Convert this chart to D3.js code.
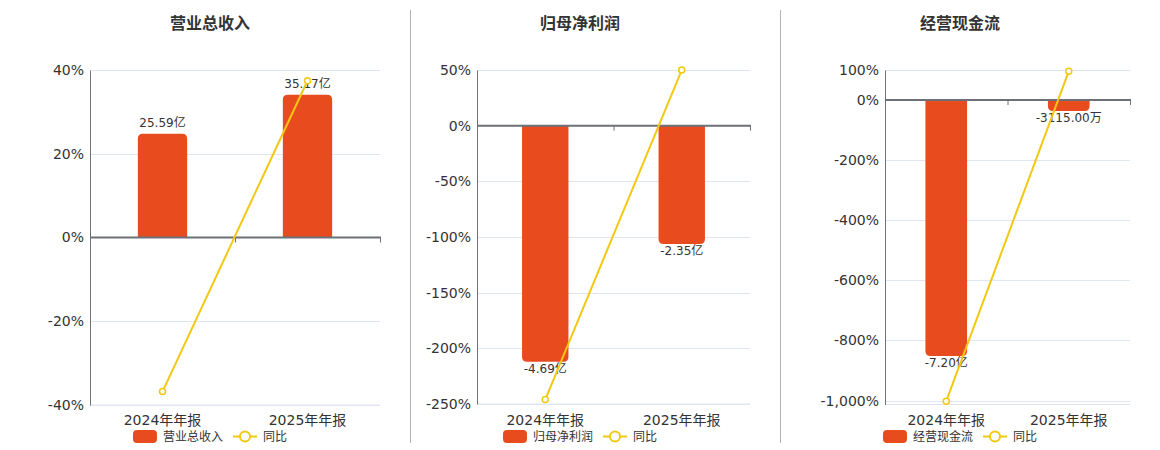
<!DOCTYPE html>
<html>
<head>
<meta charset="utf-8">
<script src="https://cdn.jsdelivr.net/npm/d3@7"></script>
<style>
  body { margin: 0; background: #fff; }
  svg { display: block; font-family: "DejaVu Sans", "Noto Sans CJK SC", sans-serif; }
</style>
</head>
<body>
<svg width="1160" height="450"></svg>
<script>
// Datos del gráfico
const categories = ["2024年年报", "2025年年报"];
const titles = ["营业总收入", "归母净利润", "经营现金流"];
const barValues = [
  [25.59, 35.17],     // 营业总收入 (亿)
  [-4.69, -2.35],     // 归母净利润 (亿)
  [-7.20, -0.3115]    // 经营现金流 (亿)
];
const yoyValues = [
  [-36.8, 37.44],
  [-246, 49.9],
  [-1002, 95.67]
];
const pctTicks = [
  [40, 20, 0, -20, -40],
  [50, 0, -50, -100, -150, -200, -250],
  [100, 0, -200, -400, -600, -800, -1000]
];
const pctDomains = [[-40, 40], [-250, 50], [-1013, 100]];
const barDomains = [[-41.3, 41.3], [-5.53, 1.106], [-8.56, 0.843]];

// Colores
const barColor = "#e84c1e";
const lineColor = "#f2c811";
const textColor = "#333";
const axisColor = "#6e7079";
const gridColor = "#e0e6f1";

// Posición de cada panel
const panels = [
  { cx: 210, left: 90, right: 380, top: 70, bottom: 405 },
  { cx: 580, left: 477, right: 750, top: 70, bottom: 404 },
  { cx: 960, left: 885, right: 1130, top: 70, bottom: 404.5 }
];

const svg = d3.select("svg");

// Separadores verticales entre paneles
[410.5, 780.5].forEach(x => {
  svg.append("line")
    .attr("x1", x).attr("x2", x)
    .attr("y1", 10).attr("y2", 443)
    .attr("stroke", "#b4b4b4")
    .attr("stroke-width", 1);
});

// Formato de la etiqueta de la barra
function formatValue(v) {
  if (Math.abs(v) < 1) return (v * 10000).toFixed(2) + "万";
  return v.toFixed(2) + "亿";
}

// Formato de porcentaje con separador de miles y guion normal
const locale = d3.formatLocale({
  decimal: ".", thousands: ",", grouping: [3], currency: ["", ""], minus: "-"
});
const pctFormat = v => locale.format(",")(v) + "%";

// Camino de barra con esquinas redondeadas en el extremo
function barPath(x, w, y0, y1, r) {
  const h = Math.abs(y1 - y0);
  r = Math.min(r, h, w / 2);
  if (y1 < y0) {
    // barra positiva: redondeo arriba
    return `M${x},${y0}V${y1 + r}Q${x},${y1} ${x + r},${y1}H${x + w - r}Q${x + w},${y1} ${x + w},${y1 + r}V${y0}Z`;
  }
  // barra negativa: redondeo abajo
  return `M${x},${y0}V${y1 - r}Q${x},${y1} ${x + r},${y1}H${x + w - r}Q${x + w},${y1} ${x + w},${y1 - r}V${y0}Z`;
}

panels.forEach((p, i) => {
  const g = svg.append("g");

  // Escalas
  const x = d3.scaleBand().domain(categories).range([p.left, p.right]);
  const yPct = d3.scaleLinear().domain(pctDomains[i]).range([p.bottom, p.top]);
  const yBar = d3.scaleLinear().domain(barDomains[i]).range([p.bottom, p.top]);

  // Título
  g.append("text")
    .attr("x", p.cx)
    .attr("y", 29)
    .attr("text-anchor", "middle")
    .style("font-size", "16px")
    .style("font-weight", "bold")
    .style("fill", textColor)
    .text(titles[i]);

  // Líneas de la cuadrícula
  g.selectAll(".grid")
    .data(pctTicks[i].filter(t => t !== 0))
    .enter()
    .append("line")
    .attr("x1", p.left).attr("x2", p.right)
    .attr("y1", d => Math.round(yPct(d)) + 0.5)
    .attr("y2", d => Math.round(yPct(d)) + 0.5)
    .attr("stroke", gridColor);

  // Línea inferior del área
  g.append("line")
    .attr("x1", p.left).attr("x2", p.right)
    .attr("y1", p.bottom).attr("y2", p.bottom)
    .attr("stroke", gridColor);

  // Eje Y con porcentajes
  const yAxis = d3.axisLeft(yPct)
    .tickValues(pctTicks[i])
    .tickFormat(pctFormat)
    .tickSize(0)
    .tickPadding(6);
  const ya = g.append("g")
    .attr("transform", `translate(${p.left},0)`)
    .call(yAxis);
  ya.select(".domain").attr("stroke", axisColor);
  ya.selectAll("text")
    .style("font-size", "14px")
    .style("fill", textColor)
    .style("font-family", "DejaVu Sans, sans-serif");

  // Barras
  const bw = x.bandwidth() * 0.34;
  g.selectAll(".bar")
    .data(barValues[i])
    .enter()
    .append("path")
    .attr("d", (d, j) => barPath(
      x(categories[j]) + (x.bandwidth() - bw) / 2, bw,
      yBar(0), yBar(d), 5))
    .attr("fill", barColor);

  // Etiquetas de las barras
  g.selectAll(".barLabel")
    .data(barValues[i])
    .enter()
    .append("text")
    .attr("x", (d, j) => x(categories[j]) + x.bandwidth() / 2)
    .attr("y", d => d >= 0 ? yBar(d) - 7 : yBar(d) + 11)
    .attr("text-anchor", "middle")
    .style("font-size", "12px")
    .style("fill", textColor)
    .text(formatValue);

  // Eje X en el cero
  const zeroY = yPct(0);
  g.append("line")
    .attr("x1", p.left).attr("x2", p.right + 1)
    .attr("y1", zeroY).attr("y2", zeroY)
    .attr("stroke", axisColor)
    .attr("stroke-width", 2);
  g.selectAll(".xtick")
    .data([x(categories[1]), p.right])
    .enter()
    .append("line")
    .attr("x1", d => d + 0.5).attr("x2", d => d + 0.5)
    .attr("y1", zeroY).attr("y2", zeroY + 5)
    .attr("stroke", axisColor);

  // Etiquetas de categorías
  g.selectAll(".xlabel")
    .data(categories)
    .enter()
    .append("text")
    .attr("x", d => x(d) + x.bandwidth() / 2)
    .attr("y", 425)
    .attr("text-anchor", "middle")
    .style("font-size", "14px")
    .style("fill", textColor)
    .text(d => d);

  // Línea del crecimiento interanual
  const line = d3.line()
    .x((d, j) => x(categories[j]) + x.bandwidth() / 2)
    .y(d => yPct(d));
  g.append("path")
    .datum(yoyValues[i])
    .attr("d", line)
    .attr("fill", "none")
    .attr("stroke", lineColor)
    .attr("stroke-width", 2);
  g.selectAll(".dot")
    .data(yoyValues[i])
    .enter()
    .append("circle")
    .attr("cx", (d, j) => x(categories[j]) + x.bandwidth() / 2)
    .attr("cy", d => yPct(d))
    .attr("r", 3)
    .attr("fill", "#fff")
    .attr("stroke", lineColor)
    .attr("stroke-width", 1.5);

  // Leyenda
  const legend = g.append("g");
  legend.append("rect")
    .attr("x", 0).attr("y", 430)
    .attr("width", 24).attr("height", 13)
    .attr("rx", 4)
    .attr("fill", barColor);
  const t1 = legend.append("text")
    .attr("x", 30).attr("y", 441)
    .style("font-size", "12px")
    .style("fill", textColor)
    .text(titles[i]);
  const x2 = 30 + t1.node().getComputedTextLength() + 10;
  legend.append("line")
    .attr("x1", x2).attr("x2", x2 + 24)
    .attr("y1", 436.5).attr("y2", 436.5)
    .attr("stroke", lineColor)
    .attr("stroke-width", 2);
  legend.append("circle")
    .attr("cx", x2 + 12).attr("cy", 436.5)
    .attr("r", 5)
    .attr("fill", "#fff")
    .attr("stroke", lineColor)
    .attr("stroke-width", 2);
  const t2 = legend.append("text")
    .attr("x", x2 + 30).attr("y", 441)
    .style("font-size", "12px")
    .style("fill", textColor)
    .text("同比");
  const total = x2 + 30 + t2.node().getComputedTextLength();
  legend.attr("transform", `translate(${p.cx - total / 2},0)`);
});
</script>
</body>
</html>
